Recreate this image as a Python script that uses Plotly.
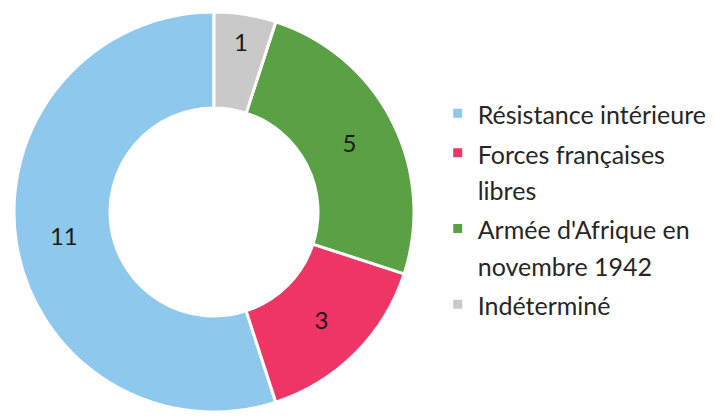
import plotly.graph_objects as go

labels = [
    "Résistance intérieure",
    "Forces françaises<br>libres",
    "Armée d'Afrique en<br>novembre 1942",
    "Indéterminé",
]
values = [11, 3, 5, 1]
colors = ["#8EC8EC", "#EE3566", "#5AA146", "#C9C9C9"]

# counterclockwise pies end the first slice at the rotation angle,
# so shift it back so that the first slice starts at 12 o'clock
start_rotation = -360 * values[0] / sum(values)

# legend font is set larger than the text itself to loosen the line spacing
legend_labels = ['<span style="font-size:25px">' + l.replace("<br>", '</span><br><span style="font-size:25px">') + "</span>"
                 for l in labels]

fig = go.Figure(
    go.Pie(
        labels=legend_labels,
        values=values,
        hole=0.52,
        sort=False,
        direction="counterclockwise",
        rotation=start_rotation,
        marker=dict(colors=colors, line=dict(color="white", width=3)),
        textinfo="value",
        textposition="inside",
        insidetextorientation="horizontal",
        textfont=dict(size=24, color="#1a1a1a", family="Lato"),
        domain=dict(x=[6 / 715, 406 / 715], y=[14 / 418, 414 / 418]),
    )
)

fig.update_layout(
    width=715,
    height=418,
    margin=dict(l=0, r=0, t=0, b=0),
    paper_bgcolor="white",
    font=dict(family="Lato", color="#262626", size=25),
    legend=dict(x=0.601, y=0.519, xanchor="left", yanchor="middle",
                font=dict(size=28), itemwidth=30, valign="top"),
)

fig.write_html("out.html")
